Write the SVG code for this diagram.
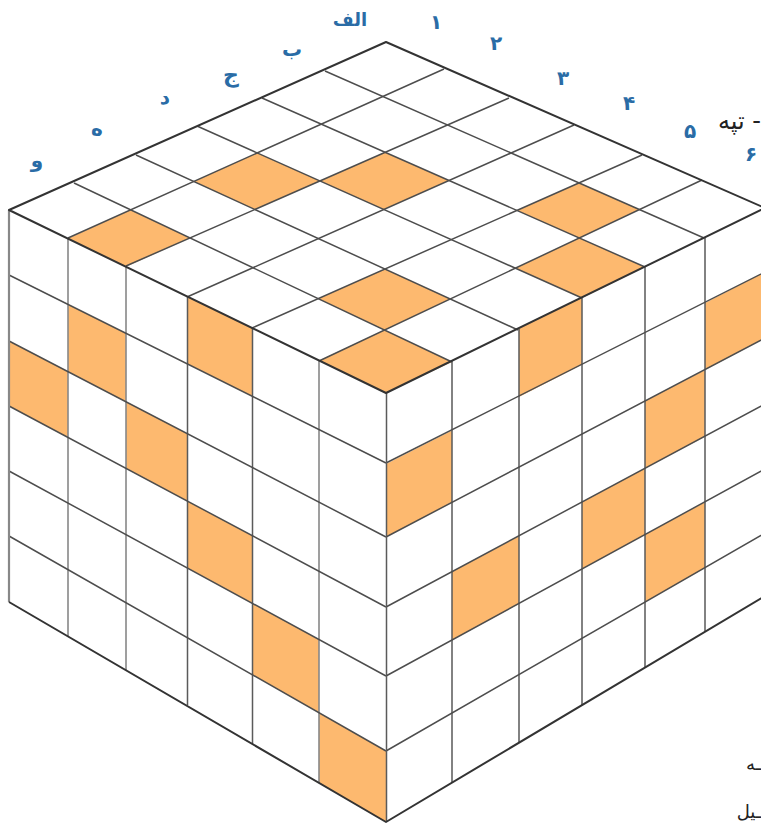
<svg xmlns="http://www.w3.org/2000/svg" width="761" height="823" viewBox="0 0 761 823">
<style>
.hl{fill:#fdb96f;stroke:none}
.in{stroke:#4d4d4d;stroke-width:1.5;fill:none}
.v1{stroke:#888;stroke-width:1.6;fill:none}
.v2{stroke:#5a5a5a;stroke-width:1.5;fill:none}
.ol{stroke:#333;stroke-width:2;fill:none;stroke-linejoin:round}
.lb{font-family:"DejaVu Sans",sans-serif;font-weight:bold;font-size:20px;fill:#2a6ca6;text-anchor:middle}
.tx{font-family:"DejaVu Sans",sans-serif;font-size:18px;fill:#222}
</style>
<rect width="761" height="823" fill="#fff"/>
<g id="top-cells">
<polygon class="hl" points="257.3,153 320,181 254.9,209.5 193.8,181.5"/>
<polygon class="hl" points="385.1,152.5 449,180.5 383.9,209.5 320,181"/>
<polygon class="hl" points="130.7,209.9 190,238 126,266.7 68,238.6"/>
<polygon class="hl" points="579,182.9 639.5,209.6 579.3,238 516.9,210.5"/>
<polygon class="hl" points="579.3,238 645,267 582,298 515.3,268.2"/>
<polygon class="hl" points="384.9,269 450.3,299 384.5,330 318.2,298.7"/>
<polygon class="hl" points="384.5,330 452,362 386,393 319,360.5"/>
</g>
<g id="left-cells">
<polygon class="hl" points="9,341 68,371.7 68,437.5 9,406"/>
<polygon class="hl" points="68,304.4 126,333.3 126,401.8 68,371.7"/>
<polygon class="hl" points="126,401.8 187,433.5 187,500.9 126,468.4"/>
<polygon class="hl" points="187,296.4 252,328 252,396.2 187,363.8"/>
<polygon class="hl" points="187,500.9 252,535.6 252,603.1 187,567.8"/>
<polygon class="hl" points="252,603.1 319,639.6 319,712.8 252,674.6"/>
<polygon class="hl" points="319,712.8 386,751 386,822 319,782.9"/>
</g>
<g id="right-cells">
<polygon class="hl" points="386,464 452,430.6 452,502.4 386,537"/>
<polygon class="hl" points="452,571.7 519,536.3 519,603.9 452,640"/>
<polygon class="hl" points="519,328.6 582,297.3 582,364.7 519,397.1"/>
<polygon class="hl" points="582,502 645,468.3 645,534.5 582,568.9"/>
<polygon class="hl" points="645,401 705,370 705,436.7 645,468.3"/>
<polygon class="hl" points="645,534.5 705,502.3 705,568 645,602"/>
<polygon class="hl" points="705,302.9 765,272 765,338 705,370"/>
</g>
<g id="connectors">
<g id="top-grid">
<path class="in" d="M325,71L704,238M262,98L645,267M197,126L582,298M136,155L518,330M74,183L452,362"/>
<path class="in" d="M444,69L68,238M509,98L126,266M574,125L187,297M642,155L252,328M702,180L319,361"/>
</g>
<g id="left-grid">
<path class="v1" d="M68,238V636M126,266V670M319,361V783"/>
<path class="v2" d="M187.5,297V705M252.5,328V744"/>
<path class="in" d="M9,275L386,463M9,341L386,537M9,406L386,607M9,471L386,676M9,536L386,751"/>
</g>
<g id="right-grid">
<path class="v2" d="M452,361V783M519,329V743M582,298V705M645,267V668M705,238V632"/>
<path class="in" d="M386,463L765,272M386,537L765,338M386,607L765,404M386,676L765,469M386,751L765,533"/>
</g>
<g id="outline">
<path class="v1" style="stroke-width:2.2" d="M9,210V602"/>
<path class="v2" d="M386.5,393V822"/>
<path class="ol" d="M386,42L9,210L386,393L765,208Z"/>
<path class="ol" d="M9,602L386,822L765,596"/>
</g>
</g>
<g id="labels">
<text class="lb" style="font-size:18px" x="350" y="26">الف</text>
<text class="lb" x="292" y="56">ب</text>
<text class="lb" style="font-size:22px" x="231" y="82">ج</text>
<text class="lb" x="165" y="104">د</text>
<text class="lb" x="97" y="136">ه</text>
<text class="lb" x="37" y="167">و</text>
<text class="lb" x="436" y="29">۱</text>
<text class="lb" x="496" y="50">۲</text>
<text class="lb" x="563" y="85">۳</text>
<text class="lb" x="629" y="110">۴</text>
<text class="lb" x="690" y="138">۵</text>
<text class="lb" x="751" y="161">۶</text>
</g>
<g id="page-text">
<text class="tx" style="font-size:24px" direction="rtl" x="761" y="129">- تپه</text>
<text class="tx" direction="rtl" x="761" y="770">ـه</text>
<text class="tx" direction="rtl" x="761" y="818">ـیل</text>
</g>
</svg>
